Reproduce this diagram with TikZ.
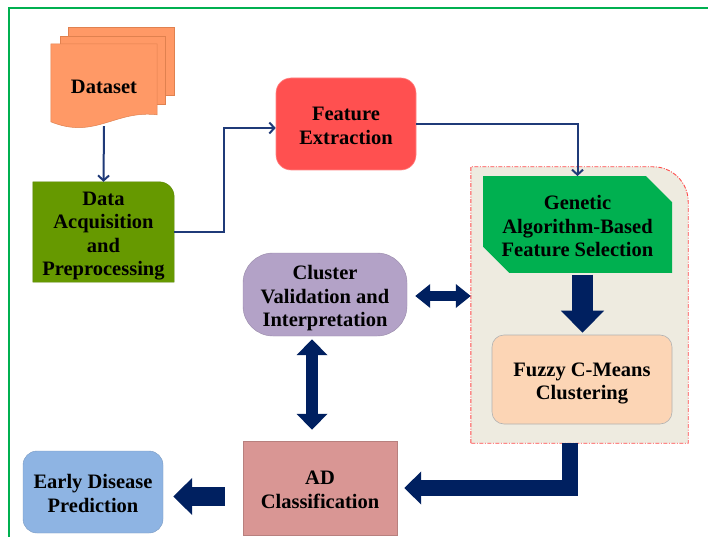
\documentclass[tikz,border=0pt]{standalone}
\usepackage{fontspec}
\setmainfont{Liberation Serif}
\usetikzlibrary{arrows.meta,calc,shapes.misc,backgrounds}
\definecolor{frameg}{HTML}{00B050}
\definecolor{dsfill}{HTML}{FF9966}
\definecolor{dsdraw}{HTML}{E0814F}
\definecolor{acqfill}{HTML}{669900}
\definecolor{fefill}{HTML}{FF5050}
\definecolor{panelfill}{HTML}{EEEBE0}
\definecolor{paneldraw}{HTML}{FF4B4B}
\definecolor{genfill}{HTML}{00B050}
\definecolor{fuzfill}{HTML}{FCD5B5}
\definecolor{clfill}{HTML}{B3A2C7}
\definecolor{adfill}{HTML}{D99694}
\definecolor{edfill}{HTML}{8EB4E3}
\definecolor{thinnavy}{HTML}{1F3A78}
\definecolor{bignavy}{HTML}{002060}
\newcommand{\mlines}[1]{\raisebox{-4pt}[\height][\depth]{\begin{tabular}{@{}c@{}}#1\end{tabular}}}
\tikzset{
  lbl/.style={font=\bfseries\fontsize{20.5}{23.5}\selectfont, inner sep=0pt, text=black},
  thinarrow/.style={draw=thinnavy, line width=2pt, -{Straight Barb[length=5pt,width=11pt]}},
  bigarrow/.style={draw=bignavy, line width=#1, line join=miter},
}
\begin{document}
\begin{tikzpicture}[x=1pt,y=-1pt]
\useasboundingbox (0,0) rectangle (708,537);
% frame
\coordinate (fr1) at (9,537);
\coordinate (fr2) at (9,8);
\coordinate (fr3) at (708,8);
\draw[frameg, line width=1.6pt] (fr1) -- (fr2) -- (fr3);

% nodes
\node[lbl, minimum width=106pt, minimum height=82pt] (dataset) at (104,85) {\mlines{Dataset}};
\node[lbl, minimum width=141pt, minimum height=100pt] (acq) at (103.5,232) {\mlines{Data\\Acquisition\\and\\Preprocessing}};
\node[lbl, minimum width=140pt, minimum height=92pt, rounded corners=15pt, fill=fefill, draw=fefill!70!white, line width=0.6pt] (fe) at (346,124) {\mlines{Feature\\Extraction}};
\node[minimum width=217pt, minimum height=276pt, inner sep=0pt] (panel) at (579.5,305) {};
\node[lbl, chamfered rectangle, chamfered rectangle corners={north east,south west}, chamfered rectangle xsep=13pt, chamfered rectangle ysep=13pt, minimum width=189pt, minimum height=87pt, fill=genfill] (gen) at (577.5,224.5) {\mlines{Genetic\\Algorithm-Based\\Feature Selection}};
\node[lbl, minimum width=180pt, minimum height=89pt, rounded corners=12pt, fill=fuzfill, draw=black!30, line width=0.6pt] (fuz) at (582,379.5) {\mlines{Fuzzy C-Means\\Clustering}};
\node[lbl, minimum width=164pt, minimum height=83pt, rounded corners=30pt, fill=clfill, draw=clfill!85!black, line width=0.4pt] (cl) at (325,294.5) {\mlines{Cluster\\Validation and\\Interpretation}};
\node[lbl, minimum width=154pt, minimum height=94pt, fill=adfill, draw=adfill!85!black, line width=0.4pt] (ad) at (320,488) {\mlines{AD\\Classification}};
\node[lbl, minimum width=140pt, minimum height=82pt, rounded corners=14pt, fill=edfill, draw=edfill!85!black, line width=0.4pt] (ed) at (93,492) {\mlines{Early Disease\\Prediction}};

% background shapes
\begin{scope}[on background layer]
  \fill[white] (0,0) rectangle (708,537);
  \filldraw[fill=dsfill, draw=dsdraw, line width=0.5pt] ($(dataset.north west)+(17,-17)$) rectangle ($(dataset.north east)+(17,51)$);
  \filldraw[fill=dsfill, draw=dsdraw, line width=0.5pt] ($(dataset.north west)+(9,-8)$) rectangle ($(dataset.north east)+(8,60)$);
  \filldraw[fill=dsfill, draw=dsdraw, line width=0.5pt] (dataset.north west) -- (dataset.north east) -- ($(dataset.north east)+(0,71)$) .. controls ($(dataset.north west)+(64,66)$) and ($(dataset.north west)+(44,96)$) .. ($(dataset.north west)+(0,78)$) -- cycle;
  \filldraw[fill=acqfill, draw=acqfill!85!black, line width=0.4pt] (acq.south west) -- (acq.north west) -- ($(acq.north east)+(-15,0)$) .. controls ($(acq.north east)+(-6.7,0)$) and ($(acq.north east)+(0,6.7)$) .. ($(acq.north east)+(0,15)$) -- (acq.south east) -- cycle;
  \filldraw[fill=panelfill, draw=paneldraw, line width=0.9pt, dash pattern=on 4pt off 1.5pt on 1pt off 1.5pt] (panel.south west) -- (panel.north west) -- ($(panel.north east)+(-35,0)$) .. controls ($(panel.north east)+(-15.7,0)$) and ($(panel.north east)+(0,15.7)$) .. ($(panel.north east)+(0,35)$) -- (panel.south east) -- cycle;
\end{scope}

% thin connectors
\draw[thinarrow] (dataset.south) -- (acq.north);
\coordinate (bend1) at ($(acq.east)+(50,0)$);
\draw[thinarrow] (acq.east) -- (bend1) |- ($(fe.west)+(0,4)$);
\draw[thinarrow] (fe.east) -| (gen.north);

% thick arrows
\draw[bigarrow=21pt, -{Triangle[length=22pt,width=42pt]}] ($(fuz.north)+(0.5,-60)$) -- ($(fuz.north)+(0.5,-2)$);
\draw[bigarrow=10pt, {Triangle[length=15pt,width=23pt]}-{Triangle[length=15pt,width=23pt]}] ($(cl.east)+(8,1.5)$) -- ($(cl.east -| panel.west)+(0,1.5)$);
\draw[bigarrow=12pt, {Triangle[length=16pt,width=30pt]}-{Triangle[length=16pt,width=30pt]}] ($(cl.south)+(-13,3)$) -- ($(ad.north)+(-8,-11)$);
\draw[bigarrow=16pt, -{Triangle[length=17pt,width=32pt]}] ($(panel.south)+(-9.5,0)$) |- ($(ad.east)+(7,0)$);
\draw[bigarrow=19pt, -{Triangle[length=19pt,width=36pt]}] ($(ad.west)+(-18,8.5)$) -- ($(ed.east)+(10,4.5)$);
\end{tikzpicture}
\end{document}
